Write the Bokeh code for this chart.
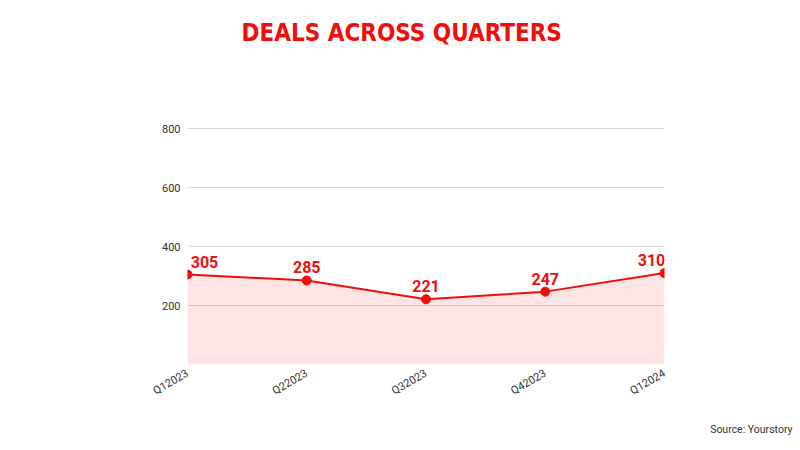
from bokeh.plotting import figure
from bokeh.models import FixedTicker, Title, ColumnDataSource, Range1d, LabelSet
from bokeh.core.properties import value
from bokeh.embed import file_html
from bokeh.resources import INLINE

quarters = ["Q12023", "Q22023", "Q32023", "Q42023", "Q12024"]
deals = [305, 285, 221, 247, 310]
y_ticks = [200, 400, 600, 800]

RED = "#f20d0d"
H = 450
FL, FR, FT, FB = 187, 136, 46, 86  # frame borders (frame extends above the 800 line)
Y0_PX, Y800_PX = H - FB, 128       # pixel rows of value 0 and of value 800
y_top = 800 * (Y0_PX - FT) / (Y0_PX - Y800_PX)

xs = list(range(len(quarters)))
label_dx = [17, 0, 0, 0, -13]
src = ColumnDataSource(dict(x=xs, y=deals, txt=[str(d) for d in deals], dx=label_dx))

p = figure(width=800, height=H, output_backend="svg", toolbar_location=None,
           x_range=Range1d(0, len(quarters) - 1), y_range=Range1d(0, y_top),
           min_border_left=FL, min_border_right=FR, min_border_top=FT, min_border_bottom=FB)
p.outline_line_color = None
p.background_fill_color = "white"
p.border_fill_color = "white"

p.varea(x="x", y1=0, y2="y", source=src, fill_color=RED, fill_alpha=0.11)
p.line(x="x", y="y", source=src, line_color=RED, line_width=2)
p.scatter(x="x", y="y", source=src, size=9, color=RED)
labels = LabelSet(x="x", y="y", text="txt", source=src, x_offset="dx", y_offset=7,
                  text_align="center", text_baseline="bottom", text_color=RED,
                  text_font=value("Roboto"), text_font_style="bold", text_font_size="16px")
p.add_layout(labels)

p.xaxis.ticker = FixedTicker(ticks=xs)
p.xaxis.major_label_overrides = {i: q for i, q in enumerate(quarters)}
p.xaxis.major_label_orientation = 0.52
p.yaxis.ticker = FixedTicker(ticks=y_ticks)
for ax in (p.xaxis, p.yaxis):
    ax.axis_line_color = None
    ax.major_tick_line_color = None
    ax.minor_tick_line_color = None
    ax.major_tick_out = 0
    ax.major_tick_in = 0
    ax.major_label_text_font = "Roboto"
    ax.major_label_text_font_size = "11px"
    ax.major_label_text_color = "#333333"
p.yaxis.major_label_standoff = 7
p.xaxis.major_label_standoff = 8
p.xgrid.grid_line_color = None
p.ygrid.grid_line_color = "#d9d9d9"
p.ygrid.grid_line_width = 1

title = Title(text="DEALS ACROSS QUARTERS", align="left", offset=54, standoff=0,
              text_color=RED, text_font="'DejaVu Sans Condensed', sans-serif",
              text_font_style="bold", text_font_size="24px")
p.add_layout(title, "above")
source = Title(text="Source: Yourstory", align="right", offset=-128, standoff=30,
               text_color="#333333", text_font="Roboto", text_font_style="normal",
               text_font_size="10.5px")
p.add_layout(source, "below")

open("out.html", "w").write(file_html(p, INLINE))
